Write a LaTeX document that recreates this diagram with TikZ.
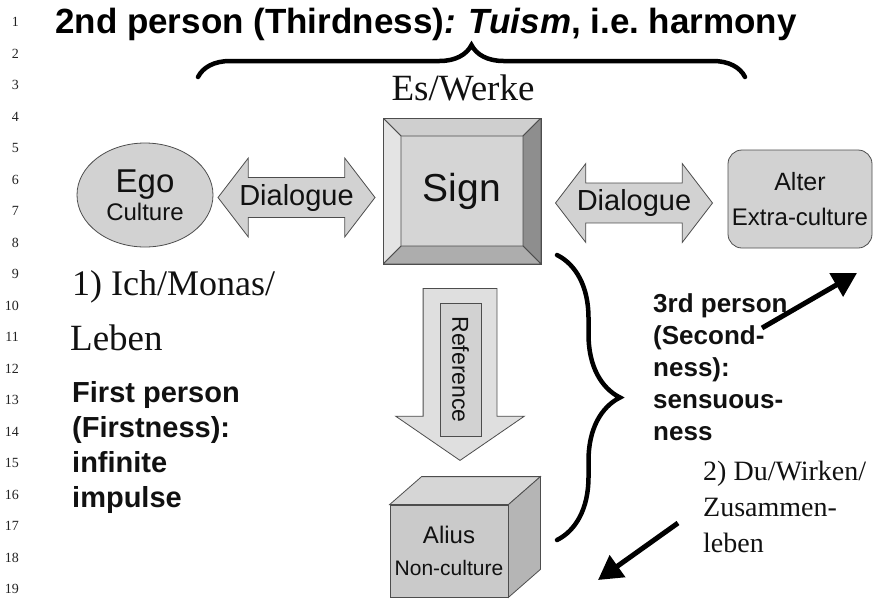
\documentclass[tikz,border=0pt]{standalone}
\usepackage{fontspec}
\setmainfont{Liberation Serif}
\setsansfont{Liberation Sans}
\usetikzlibrary{arrows.meta,positioning,calc,shapes.geometric,shapes.arrows,decorations.pathreplacing}
\definecolor{cInk}{HTML}{111111}
\definecolor{cNum}{HTML}{222222}
\definecolor{cEdge}{HTML}{4D4D4D}
\definecolor{cFill}{HTML}{D2D2D2}
\definecolor{cFace}{HTML}{D5D5D5}
\definecolor{cLite}{HTML}{E4E4E4}
\definecolor{cTop}{HTML}{CFCFCF}
\definecolor{cDark}{HTML}{8E8E8E}
\definecolor{cLow}{HTML}{ADADAD}
\newcommand{\fsz}[2]{\fontsize{#1}{#2}\selectfont}
\tikzset{
  greybox/.style={draw=cEdge, line width=0.8pt, fill=cFill, text=cInk, align=center,
     inner sep=0pt, font=\sffamily},
  egoblob/.style={greybox, ellipse, minimum width=136, minimum height=104},
  altbox/.style={greybox, rounded corners=14pt, minimum width=144, minimum height=98},
  cubefront/.style={greybox, fill=cFill!96!black, minimum width=118, minimum height=92},
  cubeside/.style={draw=cEdge, line width=0.8pt},
  bevel/.style={draw=cEdge, line width=0.8pt},
  % bevelled button: faces drawn inside the node border
  signbox/.style={greybox, fill=cFace, minimum width=158, minimum height=146,
     font=\sffamily\fsz{39}{39},
     path picture={
       \path (path picture bounding box.north west) coordinate (o1)
             (path picture bounding box.north east) coordinate (o2)
             (path picture bounding box.south east) coordinate (o3)
             (path picture bounding box.south west) coordinate (o4);
       \path ($(o1)+(18,18)$) coordinate (i1) ($(o2)+(-18,18)$) coordinate (i2)
             ($(o3)+(-18,-18)$) coordinate (i3) ($(o4)+(18,-18)$) coordinate (i4);
       \filldraw[bevel, fill=cTop] (o1) -- (o2) -- (i2) -- (i1) -- cycle;
       \filldraw[bevel, fill=cDark] (o2) -- (o3) -- (i3) -- (i2) -- cycle;
       \filldraw[bevel, fill=cLow] (o3) -- (o4) -- (i4) -- (i3) -- cycle;
       \filldraw[bevel, fill=cLite] (o4) -- (o1) -- (i1) -- (i4) -- cycle;
     }},
  dialogue/.style={greybox, double arrow, double arrow tip angle=105,
     double arrow head extend=19.5pt, minimum height=157, minimum width=78,
     inner ysep=6pt, font=\sffamily\fsz{29}{34}},
  refarrow/.style={greybox, fill=cLite!70!cFill, single arrow, single arrow tip angle=111,
     single arrow head extend=27.5pt, minimum height=172, minimum width=128,
     inner ysep=36.5pt, rotate=-90},
  reflabel/.style={greybox, rotate=-90, minimum width=133, minimum height=41,
     font=\sffamily\fsz{23}{23}},
  bracket/.style={decorate, decoration={brace, amplitude=#1}, draw=black,
     line width=4.5pt, line cap=round},
  pointer/.style={-{Triangle[length=24pt, width=26pt]}, line width=5pt, draw=black},
  lineno/.style={anchor=east, inner sep=0pt, font=\fsz{14}{14}, text=cNum},
  serifnote/.style={anchor=base west, inner sep=0pt, text=cInk},
  boldnote/.style={anchor=north west, inner sep=0pt, align=left, text=cInk},
}

\begin{document}
\begin{tikzpicture}[x=1pt, y=-1pt]
  \path[use as bounding box] (0,0) rectangle (874,598);
  \clip (0,0) rectangle (874,598);
  % margin numbers
  \foreach \n in {1,...,19}
    \node[lineno] (ln\n) at (19,{22+(\n-1)*31.5}) {\n};

  \node[anchor=base west, inner sep=0pt, text=black, font=\sffamily\bfseries\fsz{35}{35}] (title)
    at (55,33) {2nd person (Thirdness)\textit{: Tuism}, i.e.\ harmony};
  \coordinate (tb west) at (198,77);
  \coordinate (tb east) at (745,77);
  \draw[bracket=32pt] (tb west) -- (tb east);
  \node[anchor=base, inner sep=0pt, text=cInk, font=\fsz{37}{37}] (es) at (463,100) {Es/Werke};

  \node[signbox] (sign) at (462,191) {Sign};
  \node[egoblob, font=\sffamily\fsz{24}{28}] (ego) at (145,195)
    {{\fsz{33}{33}Ego}\\Culture};
  \node[altbox, font=\sffamily\fsz{24}{28}] (alter) at (800,199)
    {{\fsz{25}{25}Alter}\\[7pt]Extra-culture};
  \node[dialogue] (dlg left) at (296.5,197.5) {Dialogue};
  \node[dialogue] (dlg right) at (634,203) {Dialogue};

  % reference arrow down to the cube
  \node[refarrow, anchor=tail] (ref) at (460,288) {};
  \node[reflabel] (reflbl) at (460.5,369.5) {Reference};

  \node[cubefront, font=\sffamily\fsz{21}{28}] (alius) at (449,551)
    {{\fsz{24}{24}Alius}\\[4pt]Non-culture};
  \filldraw[cubeside, fill=cTop!85!white] (alius.north west) -- ++(32,-28)
    -- ([shift={(32,-28)}]alius.north east) -- (alius.north east) -- cycle;
  \filldraw[cubeside, fill=cLow!90!white] (alius.north east) -- ++(32,-28)
    -- ([shift={(32,-28)}]alius.south east) -- (alius.south east) -- cycle;

  \node[serifnote, font=\fsz{36}{36}] (ich) at (72,295) {1) Ich/Monas/};
  \node[serifnote, font=\fsz{37}{37}] (leben) at (70,350) {Leben};
  \node[boldnote, font=\sffamily\bfseries\fsz{29}{35}] (first) at (72,381)
    {First person\\(Firstness):\\infinite\\impulse};

  \coordinate (rb top) at (557,255);
  \coordinate (rb bot) at (557,540);
  \draw[bracket=63pt] (rb top) -- (rb bot);
  \node[boldnote, font=\sffamily\bfseries\fsz{26}{32}] (third) at (653,293)
    {3rd person\\(Second-\\ness):\\sensuous-\\ness};
  \node[anchor=north west, align=left, inner sep=0pt, text=cInk, font=\fsz{28}{36}] (du)
    at (703,461) {2) Du/Wirken/\\Zusammen-\\leben};

  \coordinate (up from) at (762,328);
  \coordinate (up to) at (857,273);
  \draw[pointer] (up from) -- (up to);
  \coordinate (down from) at (678,523);
  \coordinate (down to) at (598,580);
  \draw[pointer] (down from) -- (down to);
\end{tikzpicture}
\end{document}
